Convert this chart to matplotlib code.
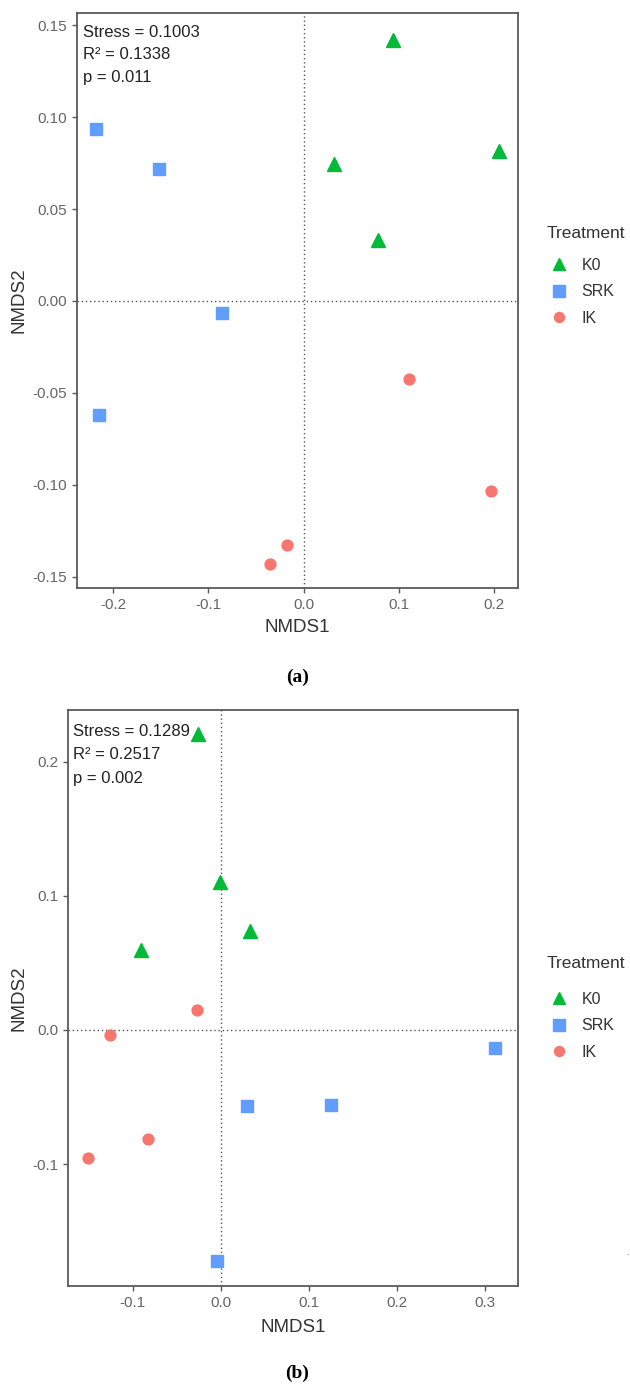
import matplotlib
matplotlib.use("Agg")
import matplotlib.pyplot as plt
from matplotlib.lines import Line2D

plt.rcParams['font.family'] = ['Liberation Sans', 'DejaVu Sans']
plt.rcParams['axes.unicode_minus'] = False

# ---------------- data ----------------
groups = ["K0", "SRK", "IK"]
colors = {"K0": "#00BA38", "SRK": "#619CFF", "IK": "#F8766D"}
markers = {"K0": "^", "SRK": "s", "IK": "o"}
msize = {"K0": 10.0, "SRK": 8.8, "IK": 7.8}

# panel (a)
a_K0_x = [0.094, 0.032, 0.205, 0.078]
a_K0_y = [0.142, 0.0747, 0.0815, 0.0334]
a_SRK_x = [-0.2186, -0.1518, -0.0858, -0.2152]
a_SRK_y = [0.0935, 0.0717, -0.0064, -0.0618]
a_IK_x = [0.1104, 0.1966, -0.0178, -0.0351]
a_IK_y = [-0.0424, -0.1031, -0.1328, -0.1429]
a_stats = ["Stress = 0.1003", "R\u00b2 = 0.1338", "p = 0.011"]
a_xticks = [-0.2, -0.1, 0.0, 0.1, 0.2]
a_xticklabels = ["-0.2", "-0.1", "0.0", "0.1", "0.2"]
a_yticks = [0.15, 0.10, 0.05, 0.00, -0.05, -0.10, -0.15]
a_yticklabels = ["0.15", "0.10", "0.05", "0.00", "-0.05", "-0.10", "-0.15"]

# panel (b)
b_K0_x = [-0.0255, -0.0009, 0.0332, -0.0906]
b_K0_y = [0.2205, 0.1105, 0.0741, 0.0593]
b_SRK_x = [0.3117, 0.0296, 0.1256, -0.0041]
b_SRK_y = [-0.0135, -0.0566, -0.0559, -0.1726]
b_IK_x = [-0.0268, -0.1256, -0.0824, -0.1502]
b_IK_y = [0.0148, -0.0037, -0.0812, -0.0954]
b_stats = ["Stress = 0.1289", "R\u00b2 = 0.2517", "p = 0.002"]
b_xticks = [-0.1, 0.0, 0.1, 0.2, 0.3]
b_xticklabels = ["-0.1", "0.0", "0.1", "0.2", "0.3"]
b_yticks = [0.2, 0.1, 0.0, -0.1]
b_yticklabels = ["0.2", "0.1", "0.0", "-0.1"]

legend_title = "Treatment"

W, H = 630, 1384
fig = plt.figure(figsize=(W / 100, H / 100), dpi=100)

def fx(px):
    return px / W

def fy(py):
    return 1 - py / H

FRAME = "#5a5a5a"
TICKC = "#666666"
TITLEC = "#333333"


def make_panel(rect, data, xlim, ylim, xticks, xtl, yticks, ytl, stats,
               stat_x, stat_y0, stat_dy, ylab_x, xlab_y, title_y, mid_row_y):
    ax = fig.add_axes(rect)
    ax.axhline(0, color="#555555", lw=1.0, ls=(0, (1, 2)), zorder=1)
    ax.axvline(0, color="#555555", lw=1.0, ls=(0, (1, 2)), zorder=1)
    for g in groups:
        xs, ys = data[g]
        ax.plot(xs, ys, ls="none", marker=markers[g], ms=msize[g],
                color=colors[g], mec=colors[g], label=g, zorder=3)
    ax.set_xlim(*xlim)
    ax.set_ylim(*ylim)
    ax.set_xticks(xticks)
    ax.set_xticklabels(xtl)
    ax.set_yticks(yticks)
    ax.set_yticklabels(ytl)
    for s in ax.spines.values():
        s.set_color(FRAME)
        s.set_linewidth(1.3)
    ax.tick_params(length=3.5, width=1.0, color=FRAME, labelcolor=TICKC,
                   labelsize=11, pad=3.8)
    ax.set_xlabel("NMDS1", fontsize=13.5, color=TITLEC)
    ax.set_ylabel("NMDS2", fontsize=13.5, color=TITLEC)
    ax.xaxis.label.set_verticalalignment("center")
    ax.yaxis.label.set_verticalalignment("center")
    ax.yaxis.set_label_coords(ylab_x, 0.5)
    ax.xaxis.set_label_coords(0.5, xlab_y)
    for i, t in enumerate(stats):
        fig.text(fx(stat_x), fy(stat_y0 + i * stat_dy), t, fontsize=12,
                 color="#222222", va="baseline", ha="left")
    # legend
    fig.text(fx(546.7), fy(title_y), legend_title, fontsize=12.5,
             color=TITLEC, ha="left", va="center")
    handles = [Line2D([], [], ls="none", marker=markers[g], ms=msize[g] * 0.92,
                      color=colors[g]) for g in groups]
    leg = fig.legend(handles, groups, loc="center left",
                     bbox_to_anchor=(fx(546.5), fy(mid_row_y)),
                     frameon=False, fontsize=11.5,
                     handlelength=1.6, handletextpad=0.6, labelspacing=0.72,
                     borderpad=0, borderaxespad=0)
    for t in leg.get_texts():
        t.set_color(TITLEC)
    return ax


# panel (a) geometry
a_left, a_right, a_top, a_bot = 76.7, 518.3, 12.7, 588.0
make_panel([fx(a_left), fy(a_bot), (a_right - a_left) / W, (a_bot - a_top) / H],
           {"K0": (a_K0_x, a_K0_y), "SRK": (a_SRK_x, a_SRK_y), "IK": (a_IK_x, a_IK_y)},
           (-0.2384, 0.2255), (-0.156, 0.1567),
           a_xticks, a_xticklabels, a_yticks, a_yticklabels, a_stats,
           83.3, 36.7, 22.5,
           (19.3 - a_left) / (a_right - a_left),
           (a_bot - 627.7) / (a_bot - a_top),
           233.3, 292.0)

# panel (b) geometry
b_left, b_right, b_top, b_bot = 68.3, 518.3, 710.0, 1285.7
make_panel([fx(b_left), fy(b_bot), (b_right - b_left) / W, (b_bot - b_top) / H],
           {"K0": (b_K0_x, b_K0_y), "SRK": (b_SRK_x, b_SRK_y), "IK": (b_IK_x, b_IK_y)},
           (-0.1731, 0.3378), (-0.1907, 0.2386),
           b_xticks, b_xticklabels, b_yticks, b_yticklabels, b_stats,
           73.3, 735.7, 23.5,
           (19.3 - b_left) / (b_right - b_left),
           (b_bot - 1327.0) / (b_bot - b_top),
           964.0, 1026.0)

# panel captions
fig.text(fx(297.5), fy(677), "(a)", fontsize=14, fontweight="bold",
         family=["Liberation Serif", "DejaVu Serif"], ha="center", va="center")
fig.text(fx(297.5), fy(1373), "(b)", fontsize=14, fontweight="bold",
         family=["Liberation Serif", "DejaVu Serif"], ha="center", va="center")
fig.text(fx(627), fy(1252), ".", fontsize=7, color="#777777", ha="center", va="center")

fig.savefig("out.png", dpi=100)
